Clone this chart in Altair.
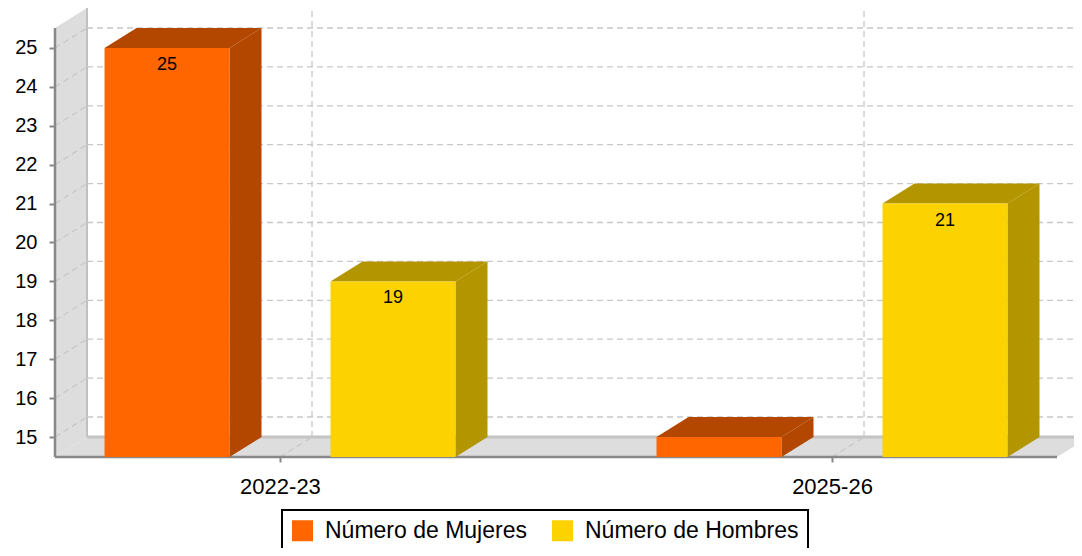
import json
import altair as alt
import pandas as pd

# ---------------- data ----------------
CATEGORIES = ["2022-23", "2025-26"]
SERIES = ["Número de Mujeres", "Número de Hombres"]
MUJERES = [25, 15]
HOMBRES = [19, 21]
Y_TICKS = [15, 16, 17, 18, 19, 20, 21, 22, 23, 24, 25]

# ---------------- style ----------------
FRONT_COLORS = ["#FF6600", "#FCD200"]
SIDE_COLORS = ["#B34700", "#B39500"]
WALL = "#DDDDDD"
GRID = "#C8C8C8"
AXIS = "#888888"
FONT = "Liberation Sans"

# ---------------- 3D geometry (category units on x, value units on y) ----------------
X_MIN, X_MAX, X_END = -0.4076, 1.4384, 1.4076
DX, DY = 0.058, 0.514
Y_MIN, Y_MAX = 14.486, 26.028
WALL_TOP = Y_MAX - DY
BAR_OFF = [-0.2047, 0.2047]
BAR_W = 0.2264

xs = alt.Scale(domain=[X_MIN, X_MAX], nice=False, zero=False)
ys = alt.Scale(domain=[Y_MIN, Y_MAX], nice=False, zero=False)

AX_X = alt.Axis(
    values=list(range(len(CATEGORIES))),
    labelExpr=f"{json.dumps(CATEGORIES)}[datum.value]",
    domain=False, grid=False, tickSize=5, tickColor=AXIS, tickWidth=2,
    labelFontSize=22, labelFont=FONT, labelColor="black", labelPadding=14,
    labelFlush=False, labelOverlap=False, title=None)
AX_Y = alt.Axis(
    values=Y_TICKS, domain=False, grid=False, tickSize=6, tickColor=AXIS, tickWidth=2,
    labelFontSize=20, labelFont=FONT, labelColor="black", labelPadding=12,
    labelFlush=False, labelOverlap=False, title=None)

series_values = {SERIES[0]: MUJERES, SERIES[1]: HOMBRES}

front, side, top = [], [], []
for i, cat in enumerate(CATEGORIES):
    for j, s in enumerate(SERIES):
        v = series_values[s][i]
        c = i + BAR_OFF[j]
        xl, xr = c - BAR_W / 2, c + BAR_W / 2
        bar = f"{cat}|{s}"
        front.append(dict(bar=bar, series=s, xl=xl, xr=xr, y0=Y_MIN, value=v, xc=c))
        side += [dict(bar=bar, series=s, x=xr, y=v, y2=Y_MIN),
                 dict(bar=bar, series=s, x=xr + DX, y=v + DY, y2=Y_MIN + DY)]
        top += [dict(bar=bar, series=s, y=v, x=xl, x2=xr),
                dict(bar=bar, series=s, y=v + DY, x=xl + DX, x2=xr + DX)]

front_df = pd.DataFrame(front)
side_df = pd.DataFrame(side)
top_df = pd.DataFrame(top)

left_wall_df = pd.DataFrame([dict(x=X_MIN, y=Y_MIN, y2=WALL_TOP),
                             dict(x=X_MIN + DX, y=Y_MIN + DY, y2=Y_MAX)])
floor_df = pd.DataFrame([dict(y=Y_MIN, x=X_MIN, x2=X_END),
                         dict(y=Y_MIN + DY, x=X_MIN + DX, x2=X_END + DX)])

dashed = []
for v in Y_TICKS:
    dashed.append(dict(x=X_MIN + DX, x2=X_MAX, y=v + DY, y2=v + DY))   # back wall
    dashed.append(dict(x=X_MIN, x2=X_MIN + DX, y=v, y2=v + DY))         # left wall
for i, _ in enumerate(CATEGORIES):
    dashed.append(dict(x=i + DX, x2=i + DX, y=Y_MIN + DY, y2=Y_MAX))   # back vertical
    dashed.append(dict(x=i, x2=i + DX, y=Y_MIN, y2=Y_MIN + DY))         # floor diagonal
dashed_df = pd.DataFrame(dashed)

edge_df = pd.DataFrame([dict(x=X_MIN + DX, x2=X_MIN + DX, y=Y_MIN + DY, y2=Y_MAX, c="#C0C0C0", w=2),
                        dict(x=X_MIN + DX, x2=X_MAX, y=Y_MIN + DY, y2=Y_MIN + DY, c="#C4C4C4", w=3)])
axis_df = pd.DataFrame([dict(x=X_MIN, x2=X_MIN, y=Y_MIN, y2=WALL_TOP),
                        dict(x=X_MIN, x2=X_END, y=Y_MIN, y2=Y_MIN)])


def X(field):
    return alt.X(field, scale=xs, axis=AX_X)


def Y(field):
    return alt.Y(field, scale=ys, axis=AX_Y)


left_wall = alt.Chart(left_wall_df).mark_area(orient="vertical", color=WALL).encode(
    x=X("x:Q"), y=Y("y:Q"), y2="y2:Q")
floor = alt.Chart(floor_df).mark_area(orient="horizontal", color=WALL, clip=True).encode(
    y=Y("y:Q"), x=X("x:Q"), x2="x2:Q")
edges = alt.Chart(edge_df).mark_rule(clip=True).encode(
    x=X("x:Q"), x2="x2:Q", y=Y("y:Q"), y2="y2:Q",
    color=alt.Color("c:N", scale=None), strokeWidth=alt.StrokeWidth("w:Q", scale=None))
grid = alt.Chart(dashed_df).mark_rule(color=GRID, strokeDash=[6, 4], strokeWidth=1.3, clip=True).encode(
    x=X("x:Q"), x2="x2:Q", y=Y("y:Q"), y2="y2:Q")
axis_lines = alt.Chart(axis_df).mark_rule(color=AXIS, strokeWidth=2.5).encode(
    x=X("x:Q"), x2="x2:Q", y=Y("y:Q"), y2="y2:Q")

sides = alt.Chart(side_df).mark_area(orient="vertical").encode(
    x=X("x:Q"), y=Y("y:Q"), y2="y2:Q", detail="bar:N",
    color=alt.Color("series:N", scale=alt.Scale(domain=SERIES, range=SIDE_COLORS), legend=None))
tops = alt.Chart(top_df).mark_area(orient="horizontal").encode(
    y=Y("y:Q"), x=X("x:Q"), x2="x2:Q", detail="bar:N",
    color=alt.Color("series:N", scale=alt.Scale(domain=SERIES, range=SIDE_COLORS), legend=None))

fronts = alt.Chart(front_df).mark_rect().encode(
    x=X("xl:Q"), x2="xr:Q", y=Y("y0:Q"), y2="value:Q",
    color=alt.Color("series:N", scale=alt.Scale(domain=SERIES, range=FRONT_COLORS),
                    legend=alt.Legend(orient="none", legendX=227, legendY=502,
                                      direction="horizontal", title=None,
                                      symbolType="square", symbolSize=441, symbolStrokeWidth=0,
                                      labelFontSize=23, labelFont=FONT, labelColor="black",
                                      labelLimit=400, labelOffset=11, columnPadding=24,
                                      padding=9, strokeColor="black", fillColor="white")))

labels = alt.Chart(front_df).transform_filter("datum.value > 15").mark_text(
    dy=17, fontSize=18, font=FONT, color="black", baseline="middle").encode(
    x=X("xc:Q"), y=Y("value:Q"), text="value:Q")

chart = alt.layer(left_wall, floor, edges, grid, axis_lines, sides, tops, fronts, labels).resolve_scale(
    color="independent"
).properties(
    width=1019, height=449,
    padding={"left": 47, "top": 0, "right": 0, "bottom": 91},
    autosize=alt.AutoSizeParams(type="none"),
).configure(font=FONT).configure_view(stroke=None).configure_legend(strokeWidth=2)

chart.save("out.html", embed_options={"renderer": "svg", "actions": False})
